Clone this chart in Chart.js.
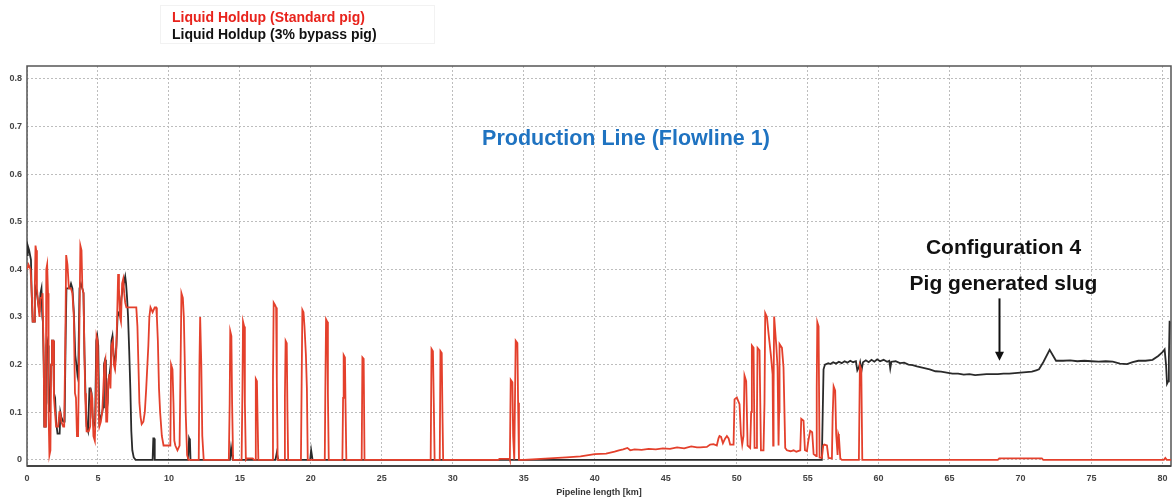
<!DOCTYPE html>
<html><head><meta charset="utf-8">
<script src="https://cdn.jsdelivr.net/npm/chart.js@4.4.1/dist/chart.umd.min.js"></script>
<style>html,body{margin:0;padding:0;background:#fff;overflow:hidden}
#wrap{position:relative;width:1175px;height:502px}</style>
</head><body><div id="wrap"><canvas id="c"></canvas></div>
<script>
// ---------- DATA (km, liquid holdup) ----------
const seriesNames = ["Liquid Holdup (Standard pig)", "Liquid Holdup (3% bypass pig)"];
const xTicks = [0,5,10,15,20,25,30,35,40,45,50,55,60,65,70,75,80];
const yTicks = [0,0.1,0.2,0.3,0.4,0.5,0.6,0.7,0.8];

// Standard pig – inlet section 0–12.5 km
const standardPigInlet = [
[0.00,0.40],[0.10,0.41],[0.25,0.40],[0.32,0.36],[0.40,0.29],[0.50,0.29],[0.55,0.36],[0.60,0.45],[0.65,0.44],[0.70,0.36],
[0.78,0.33],[0.88,0.30],[0.95,0.34],[1.05,0.34],[1.10,0.35],[1.18,0.20],[1.22,0.07],[1.32,0.07],[1.36,0.40],[1.42,0.41],
[1.48,0.35],[1.52,0.10],[1.58,0.01],[1.65,0.02],[1.70,0.20],[1.76,0.25],[1.85,0.25],[1.90,0.13],[1.95,0.11],[2.05,0.07],
[2.20,0.07],[2.28,0.10],[2.35,0.10],[2.42,0.08],[2.55,0.07],[2.62,0.07],[2.70,0.25],[2.76,0.43],[2.85,0.41],[2.95,0.36],
[3.10,0.36],[3.20,0.35],[3.30,0.30],[3.38,0.14],[3.45,0.13],[3.52,0.05],[3.60,0.05],[3.70,0.30],[3.76,0.45],[3.84,0.44],
[3.90,0.36],[3.98,0.35],[4.05,0.22],[4.10,0.14],[4.15,0.09],[4.20,0.06],[4.35,0.06],[4.45,0.07],[4.52,0.14],[4.60,0.13],
[4.68,0.05],[4.78,0.04],[4.85,0.12],[4.90,0.26],[4.98,0.25],[5.05,0.10],[5.10,0.07],[5.20,0.08],[5.30,0.10],[5.38,0.15],
[5.45,0.20],[5.52,0.21],[5.58,0.08],[5.65,0.08],[5.72,0.16],[5.80,0.18],[5.88,0.15],[5.95,0.24],[6.05,0.25],[6.12,0.20],
[6.20,0.19],[6.28,0.22],[6.35,0.30],[6.42,0.39],[6.48,0.36],[6.55,0.30],[6.62,0.29],[6.70,0.37],[6.78,0.38],[6.85,0.35],
[6.92,0.33],[7.00,0.32],[7.30,0.32],[7.60,0.32],[7.70,0.32],[7.78,0.28],[7.85,0.20],[7.92,0.12],[8.00,0.09],[8.08,0.075],
[8.20,0.08],[8.30,0.10],[8.40,0.15],[8.55,0.24],[8.62,0.30],[8.70,0.32],[8.85,0.31],[9.00,0.32],[9.10,0.32],[9.15,0.30],
[9.22,0.25],[9.30,0.15],[9.38,0.10],[9.50,0.05],[9.62,0.03],[9.80,0.03],[10.10,0.03],[10.15,0.20],[10.25,0.19],[10.32,0.12],
[10.38,0.04],[10.45,0.03],[10.60,0.02],[10.75,0.03],[10.82,0.20],[10.88,0.35],[10.98,0.34],[11.05,0.30],[11.12,0.20],[11.18,0.10],
[11.28,0.01],[11.38,0.00],[12.10,0.00],[12.15,0.20],[12.20,0.30],[12.28,0.20],[12.35,0.05],[12.45,0.00]
];
// Standard pig – isolated slugs 14–35 km
const standardPigSlugs = [
[14.22,0],[14.28,0.12],[14.32,0.27],[14.40,0.26],[14.45,0.12],[14.52,0],
[15.12,0],[15.18,0.15],[15.22,0.29],[15.30,0.28],[15.35,0.12],[15.42,0],[15.50,0.003],[15.90,0.003],[16.00,0],
[16.08,0],[16.12,0.17],[16.20,0.165],[16.25,0.08],[16.30,0],
[17.28,0],[17.33,0.17],[17.38,0.33],[17.48,0.325],[17.55,0.32],[17.60,0.17],[17.66,0],
[18.12,0],[18.17,0.13],[18.22,0.25],[18.30,0.245],[18.35,0.10],[18.40,0],
[19.30,0],[19.35,0.16],[19.40,0.315],[19.48,0.31],[19.55,0.28],[19.65,0.22],[19.72,0.15],[19.78,0],
[20.98,0],[21.02,0.15],[21.07,0.295],[21.15,0.29],[21.20,0.14],[21.26,0],
[22.22,0],[22.27,0.13],[22.31,0.22],[22.40,0.215],[22.44,0.12],[22.50,0],
[23.58,0],[23.63,0.215],[23.72,0.212],[23.78,0],
[28.44,0],[28.50,0.233],[28.60,0.228],[28.66,0.12],[28.72,0],
[29.08,0],[29.13,0.228],[29.22,0.224],[29.27,0.10],[29.32,0],
[33.20,0],[33.30,0.002],[34.00,0.002],
[34.02,0],[34.08,0.168],[34.20,0.163],[34.25,0.05],[34.33,0],
[34.38,0],[34.43,0.25],[34.55,0.245],[34.60,0.12],[34.66,0]
];
// Standard pig – riser approach 35–80.6 km
const standardPigOutlet = [
[35.0,0],[36.2,0.002],[38.0,0.005],[39.0,0.007],[40.0,0.012],[40.8,0.013],[41.4,0.017],[41.7,0.02],[42.0,0.022],[42.3,0.025],
[42.5,0.02],[42.8,0.022],[43.3,0.021],[43.8,0.023],[44.3,0.022],[44.8,0.024],[45.3,0.023],[45.8,0.026],[46.3,0.024],[46.8,0.028],
[47.2,0.026],[47.43,0.026],[47.9,0.027],[48.13,0.032],[48.37,0.033],[48.6,0.03],[48.72,0.045],[48.79,0.05],[48.9,0.048],[49.03,0.035],
[49.19,0.045],[49.31,0.05],[49.43,0.045],[49.54,0.032],[49.78,0.032],[49.85,0.127],[50.01,0.131],[50.20,0.117],[50.30,0.054],[50.39,0.032],
[50.48,0.05],[50.55,0.177],[50.67,0.165],[50.77,0.03],[50.95,0.025],[51.02,0.10],[51.07,0.24],[51.19,0.235],[51.26,0.025],[51.38,0.025],
[51.43,0.10],[51.47,0.235],[51.61,0.23],[51.71,0.02],[51.89,0.02],[51.96,0.12],[52.01,0.308],[52.13,0.30],[52.25,0.264],[52.41,0.22],
[52.53,0.18],[52.57,0.03],[52.60,0.15],[52.64,0.301],[52.79,0.24],[52.88,0.194],[52.95,0.03],[52.99,0.10],[53.02,0.243],[53.19,0.235],
[53.30,0.194],[53.42,0.025],[53.54,0.02],[53.8,0.018],[54.01,0.02],[54.2,0.017],[54.48,0.02],[54.55,0.086],[54.71,0.082],[54.81,0.02],
[54.95,0.018],[55.05,0.04],[55.18,0.061],[55.32,0.058],[55.42,0.012],[55.60,0.008],[55.64,0.15],[55.68,0.289],[55.77,0.28],[55.84,0.005],
[56.00,0.004],[56.10,0.03],[56.17,0.032],[56.36,0.03],[56.47,0.004],[56.71,0.003],[56.76,0.09],[56.83,0.154],[56.94,0.145],[57.01,0.054],
[57.11,0.01],[57.16,0.054],[57.20,0.05],[57.30,0.003],[57.41,0],[58.61,0],[58.68,0.198],[58.78,0.19],[58.85,0],[68.4,0],
[68.5,0.003],[71.5,0.003],[71.6,0],[80.1,0],[80.2,0.004],[80.3,0],[80.6,0]
];

// 3% bypass pig – inlet section 0–20 km
const bypassPigInlet = [
[0.00,0.43],[0.05,0.45],[0.15,0.44],[0.28,0.42],[0.32,0.36],[0.40,0.29],[0.50,0.29],[0.55,0.34],[0.62,0.36],[0.70,0.35],
[0.78,0.33],[0.88,0.31],[0.95,0.35],[1.02,0.36],[1.08,0.30],[1.12,0.29],[1.18,0.20],[1.22,0.07],[1.32,0.07],[1.36,0.24],
[1.42,0.25],[1.48,0.24],[1.52,0.12],[1.60,0.10],[1.70,0.20],[1.76,0.25],[1.85,0.25],[1.90,0.14],[1.98,0.13],[2.05,0.08],
[2.15,0.055],[2.30,0.055],[2.35,0.10],[2.42,0.09],[2.55,0.08],[2.65,0.08],[2.72,0.25],[2.78,0.36],[2.90,0.36],[3.00,0.36],
[3.10,0.37],[3.20,0.36],[3.30,0.31],[3.40,0.22],[3.48,0.20],[3.55,0.18],[3.62,0.20],[3.70,0.36],[3.80,0.37],[3.90,0.36],
[3.98,0.35],[4.05,0.22],[4.12,0.14],[4.20,0.07],[4.30,0.06],[4.40,0.15],[4.48,0.15],[4.55,0.14],[4.62,0.09],[4.70,0.07],
[4.80,0.08],[4.88,0.25],[4.95,0.26],[5.02,0.24],[5.10,0.08],[5.20,0.09],[5.30,0.10],[5.36,0.11],[5.42,0.20],[5.50,0.21],
[5.56,0.20],[5.60,0.10],[5.68,0.12],[5.75,0.17],[5.82,0.18],[5.90,0.20],[5.95,0.25],[6.02,0.26],[6.10,0.22],[6.20,0.20],
[6.30,0.24],[6.38,0.30],[6.48,0.31],[6.58,0.31],[6.65,0.34],[6.75,0.36],[6.85,0.375],[6.92,0.385],[6.98,0.37],[7.05,0.34],
[7.12,0.30],[7.20,0.23],[7.28,0.15],[7.35,0.06],[7.42,0.02],[7.52,0.005],[7.65,0],[8.85,0],[8.90,0.045],[8.95,0.045],
[9.00,0],[11.35,0],[11.42,0.045],[11.48,0.04],[11.52,0],[14.30,0],[14.38,0.025],[14.45,0.01],[14.50,0],[17.50,0],
[17.60,0.015],[17.70,0],[19.95,0],[20.02,0.02],[20.12,0],[56.00,0]
];
// 3% bypass pig – pig generated slug 56–80.6 km
const bypassPigSlug = [
[56.12,0.19],[56.22,0.20],[56.45,0.203],[56.60,0.201],[56.80,0.205],[57.00,0.202],[57.20,0.206],[57.40,0.203],[57.60,0.207],[57.80,0.204],
[58.00,0.208],[58.20,0.205],[58.40,0.207],[58.50,0.188],[58.62,0.195],[58.70,0.205],[58.80,0.188],[58.90,0.205],[59.10,0.209],[59.30,0.205],
[59.50,0.21],[59.70,0.206],[59.90,0.211],[60.10,0.207],[60.35,0.21],[60.60,0.206],[60.75,0.208],[60.82,0.192],[60.90,0.206],[61.20,0.207],
[61.50,0.203],[61.80,0.204],[62.10,0.20],[62.40,0.199],[62.70,0.196],[63.00,0.194],[63.30,0.192],[63.60,0.19],[64.00,0.186],[64.40,0.185],
[64.80,0.183],[65.20,0.181],[65.60,0.181],[66.00,0.179],[66.40,0.180],[66.80,0.178],[67.20,0.179],[67.60,0.180],[68.00,0.180],[68.40,0.180],
[68.80,0.181],[69.20,0.181],[69.60,0.182],[70.00,0.183],[70.40,0.184],[70.80,0.185],[71.10,0.188],[71.30,0.19],[71.60,0.205],[72.05,0.231],
[72.50,0.208],[73.00,0.208],[73.50,0.209],[74.00,0.207],[74.50,0.208],[75.00,0.207],[75.50,0.206],[76.00,0.207],[76.50,0.206],[77.00,0.202],
[77.50,0.201],[77.90,0.205],[78.30,0.208],[78.80,0.208],[79.30,0.21],[79.70,0.218],[80.00,0.226],[80.15,0.232],[80.25,0.20],[80.32,0.16],
[80.40,0.165],[80.45,0.21],[80.50,0.29],[80.55,0.29]
];

// ---------- CHART ----------
const toXY = arr => arr.map(([x, y]) => ({x, y}));
const FONT = '"Liberation Sans", Arial, Helvetica, sans-serif';
Chart.defaults.font.family = FONT;

const overlay = {
  id: 'overlay',
  beforeDatasetsDraw(chart) {
    const {ctx, chartArea: a} = chart;
    ctx.save();
    ctx.strokeStyle = '#555';
    ctx.lineWidth = 1.5;
    ctx.strokeRect(a.left, a.top, a.right - a.left, a.bottom - a.top);
    ctx.beginPath();
    ctx.lineWidth = 2;
    ctx.strokeStyle = '#444';
    ctx.moveTo(a.left, a.bottom); ctx.lineTo(a.right, a.bottom);
    ctx.stroke();
    ctx.restore();
  },
  afterDraw(chart) {
    const {ctx, scales: {x, y}} = chart;
    ctx.save();
    // legend
    ctx.strokeStyle = '#f2f2f2';
    ctx.lineWidth = 1;
    ctx.strokeRect(160.5, 5.5, 274, 38);
    ctx.textAlign = 'left';
    ctx.textBaseline = 'alphabetic';
    ctx.font = 'bold 14px ' + FONT;
    ctx.fillStyle = '#e8231c';
    ctx.fillText(seriesNames[0], 172, 22);
    ctx.fillStyle = '#111';
    ctx.fillText(seriesNames[1], 172, 39);
    // title
    ctx.textAlign = 'center';
    ctx.font = 'bold 21.5px ' + FONT;
    ctx.fillStyle = '#1f73c1';
    ctx.fillText('Production Line (Flowline 1)', x.getPixelForValue(42.2), y.getPixelForValue(0.661));
    // configuration annotation
    ctx.font = 'bold 21px ' + FONT;
    ctx.fillStyle = '#111';
    ctx.fillText('Configuration 4', x.getPixelForValue(68.8), y.getPixelForValue(0.4316));
    ctx.fillText('Pig generated slug', x.getPixelForValue(68.8), y.getPixelForValue(0.356));
    // arrow
    const ax = Math.round(x.getPixelForValue(68.5)) + 0.5;
    const y0 = y.getPixelForValue(0.339), y1 = y.getPixelForValue(0.208);
    ctx.strokeStyle = '#111';
    ctx.lineWidth = 2;
    ctx.beginPath(); ctx.moveTo(ax, y0); ctx.lineTo(ax, y1 - 7); ctx.stroke();
    ctx.beginPath(); ctx.moveTo(ax - 4.5, y1 - 9); ctx.lineTo(ax + 4.5, y1 - 9); ctx.lineTo(ax, y1); ctx.closePath();
    ctx.fillStyle = '#111'; ctx.fill();
    ctx.restore();
  }
};

new Chart(document.getElementById('c'), {
  type: 'line',
  data: {
    datasets: [
      {label: seriesNames[0], data: toXY(standardPigInlet.concat(standardPigSlugs, standardPigOutlet)),
       borderColor: '#e4402c', borderWidth: 1.8, pointRadius: 0, tension: 0, order: 0},
      {label: seriesNames[1], data: toXY(bypassPigInlet.concat(bypassPigSlug)),
       borderColor: '#2a2a2a', borderWidth: 1.8, pointRadius: 0, tension: 0, order: 1}
    ]
  },
  options: {
    responsive: true,
    maintainAspectRatio: false,
    animation: false,
    events: [],
    layout: {padding: {top: 66, right: 4, left: 0, bottom: 0}},
    plugins: {legend: {display: false}, tooltip: {enabled: false}},
    scales: {
      x: {
        type: 'linear', min: 0, max: 80.6,
        afterFit: s => { s.height = 36; },
        ticks: {stepSize: 5, includeBounds: false, padding: 7, color: '#444', maxRotation: 0,
                font: {size: 9, weight: 'bold'},
                callback: v => xTicks.includes(v) ? String(v) : ''},
        grid: {color: '#bdbdbd', lineWidth: 1, drawTicks: false},
        border: {display: false, dash: [2, 2]},
        title: {display: true, text: 'Pipeline length [km]', color: '#333',
                font: {size: 9, weight: 'bold'}, padding: {top: 0, bottom: 4}}
      },
      y: {
        type: 'linear', min: -0.013, max: 0.827,
        afterFit: s => { s.width = 27; },
        ticks: {stepSize: 0.1, includeBounds: false, padding: 5, color: '#444',
                font: {size: 9, weight: 'bold'},
                callback: v => { const t = yTicks.find(k => Math.abs(k - v) < 1e-6); return t === undefined ? '' : (t === 0 ? '0' : t.toFixed(1)); }},
        grid: {color: '#bdbdbd', lineWidth: 1, drawTicks: false},
        border: {display: false, dash: [2, 2]}
      }
    }
  },
  plugins: [overlay]
});
</script></body></html>
